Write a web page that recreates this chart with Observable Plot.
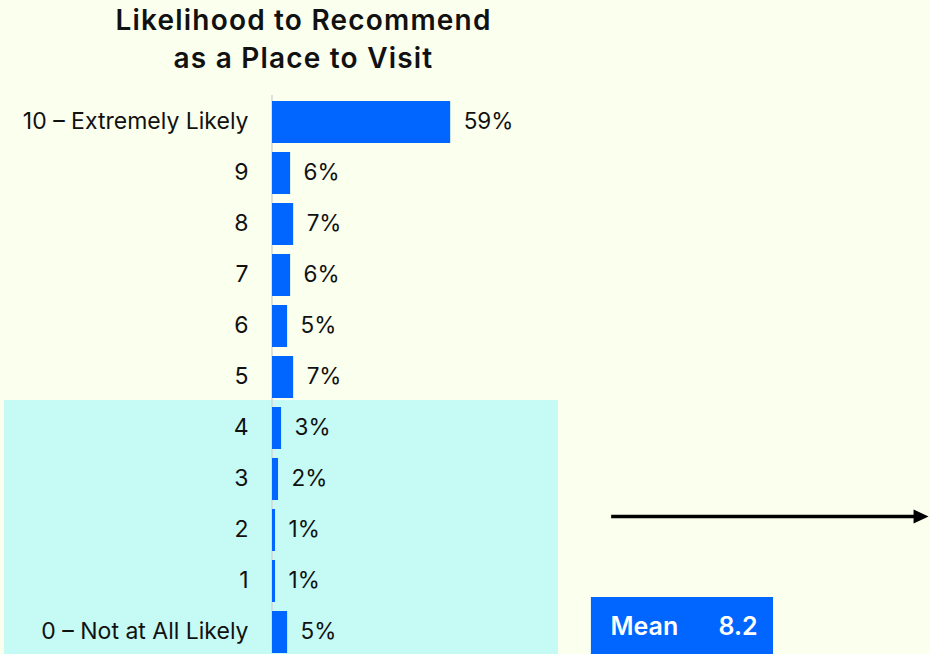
<!DOCTYPE html>
<html>
<head>
<meta charset="utf-8">
<script src="https://cdn.jsdelivr.net/npm/d3@7"></script>
<script src="https://cdn.jsdelivr.net/npm/@observablehq/plot@0.6"></script>
<style>
  html, body { margin: 0; padding: 0; background: #fbffee; }
  #wrap { width: 930px; height: 654px; overflow: hidden; position: relative; background: #fbffee; }
  #title { width: 607px; height: 80px; box-sizing: border-box; padding-top: 1px; text-align: center;
           font-family: Inter, sans-serif; font-weight: 600; font-size: 28px; line-height: 38px;
           letter-spacing: 1.2px; color: #111; }
  svg { display: block; }
</style>
</head>
<body>
<div id="wrap">
  <div id="title">Likelihood to Recommend<br>as a Place to Visit</div>
  <div id="chart"></div>
</div>
<script>
// ---- data ----
const categories = ["10 – Extremely Likely", "9", "8", "7", "6", "5", "4", "3", "2", "1", "0 – Not at All Likely"];
const percents   = [59, 6, 7, 6, 5, 7, 3, 2, 1, 1, 5];
const highlighted = ["4", "3", "2", "1", "0 – Not at All Likely"];
const meanLabel = "Mean";
const meanValue = "8.2";

const rows = categories.map((c, i) => ({category: c, value: percents[i]}));

// annotation positions in x-data units (percent scale)
const boxX1 = 105.6, boxX2 = 165.9, meanTextX = 111.9, meanValueX = 147.7;
const arrowX1 = 112.3, arrowX2 = 212.9, arrowTipX = 214.6;

const blue = "#0066ff";
const font = "Inter, sans-serif";

const rightTriangle = {
  draw(context) {
    context.moveTo(8, 0);
    context.lineTo(-7, -7);
    context.lineTo(-7, 7);
    context.closePath();
  }
};

const chart = Plot.plot({
  width: 930,
  height: 574,
  marginTop: 20,
  marginBottom: 1,
  marginLeft: 4,
  marginRight: 372,
  style: {background: "transparent", fontFamily: font},
  x: {domain: [0, 100], range: [272, 574], axis: null},
  y: {domain: categories, paddingInner: 0.18, paddingOuter: 0, axis: null},
  marks: [
    Plot.cell(highlighted, {y: d => d, fill: "#c6faf5", insetTop: -7, insetBottom: -6}),
    Plot.ruleX([0], {stroke: "#d4d4d4", strokeWidth: 1.5, dx: -0.5, insetTop: -5}),
    Plot.barX(rows, {x: "value", y: "category", fill: blue}),
    Plot.text(rows, {x: 0, y: "category", text: "category", textAnchor: "end", dx: -24, dy: -1,
                     fontSize: 23, fill: "#111", fontFamily: font}),
    Plot.text(rows, {x: "value", y: "category", text: d => d.value + "%", textAnchor: "start", dx: 13, dy: -1,
                     fontSize: 22.5, fill: "#111", fontFamily: font}),
    // arrow
    Plot.ruleY(["2"], {y: d => d, x1: arrowX1, x2: arrowX2, dy: -14, stroke: "#000", strokeWidth: 3.5}),
    Plot.dot(["2"], {y: d => d, x: arrowTipX, dy: -14, symbol: rightTriangle, fill: "#000", stroke: "none", r: 6}),
    // mean box
    Plot.barX([meanValue], {y: () => categories[categories.length - 1], x1: boxX1, x2: boxX2,
                            insetTop: -14, insetBottom: -2, fill: blue}),
    Plot.text([meanLabel], {y: () => categories[categories.length - 1], x: meanTextX, text: d => d,
                            textAnchor: "start", dy: -6, fill: "#fff", fontWeight: 600, fontSize: 25, fontFamily: font}),
    Plot.text([meanValue], {y: () => categories[categories.length - 1], x: meanValueX, text: d => d,
                            textAnchor: "start", dy: -6, fill: "#fff", fontWeight: 600, fontSize: 25, fontFamily: font})
  ]
});
document.getElementById("chart").appendChild(chart);
</script>
</body>
</html>
